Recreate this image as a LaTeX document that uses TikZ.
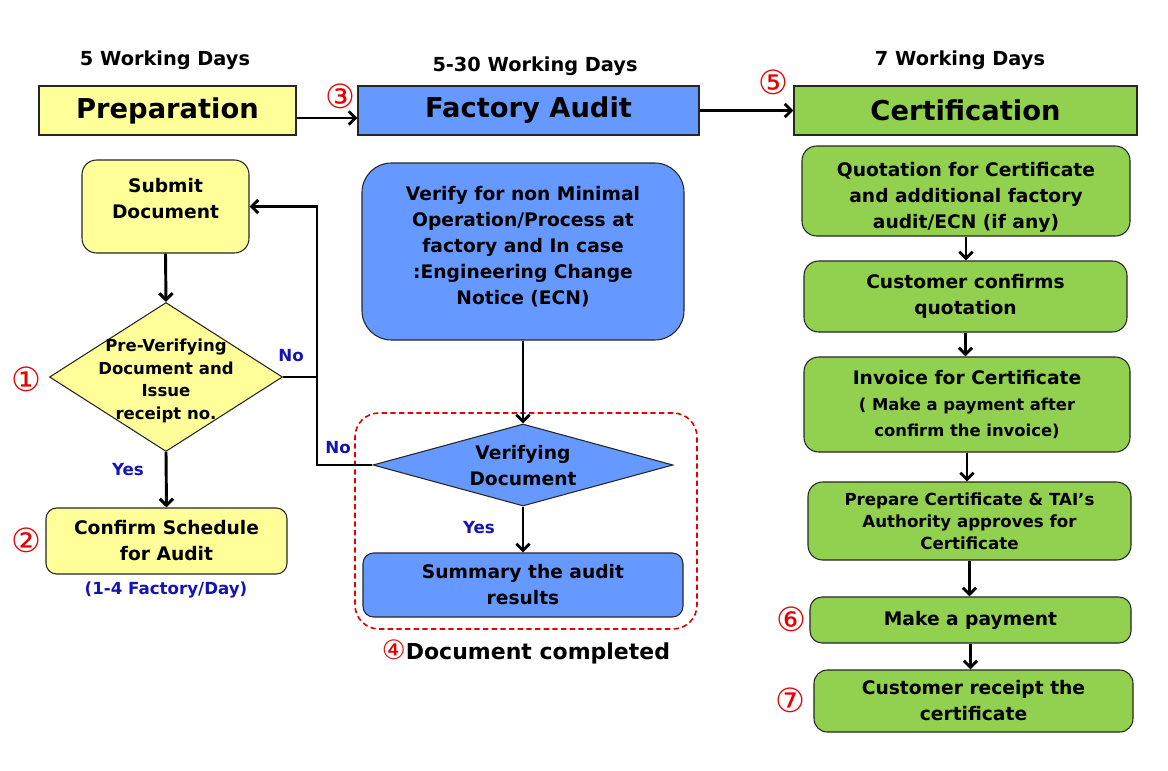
\documentclass[tikz,border=0pt]{standalone}
\usepackage{fontspec}
\setmainfont{DejaVu Sans}
\usetikzlibrary{shapes.geometric,arrows.meta,calc}
\definecolor{yel}{HTML}{FFFF99}
\definecolor{blu}{HTML}{6699FF}
\definecolor{grn}{HTML}{92D050}
\definecolor{lbl}{HTML}{1414B4}
\definecolor{rd}{HTML}{E60000}
\begin{document}
\begin{tikzpicture}[x=0.75pt,y=-0.75pt,
  box/.style={draw=black!85, line width=0.8pt, align=center, inner sep=2pt,
    font=\fontsize{14}{19.5}\selectfont\bfseries},
  titlebox/.style={box, font=\fontsize{20.5}{24}\selectfont\bfseries},
  days/.style={font=\fontsize{14.5}{17}\selectfont\bfseries},
  lab/.style={text=lbl, font=\fontsize{12.5}{15}\selectfont\bfseries},
  num/.style={text=rd, font=\fontsize{25}{26}\selectfont},
  conn/.style={line width=2.2pt},
  arr/.style={line width=2.2pt, -{Straight Barb[length=5pt,width=10pt]}}
]
\useasboundingbox[fill=white] (0,0) rectangle (1168,771);

% headings
\node[days] (dA) at (165,60) {5 Working Days};
\node[days] (dB) at (535,66) {5-30 Working Days};
\node[days] (dC) at (960,60) {7 Working Days};

% title boxes
\node[titlebox, fill=yel, minimum width=192.75pt, minimum height=36.75pt] (prep) at (167.5,110.5) {Preparation};
\node[titlebox, fill=blu, minimum width=255.75pt, minimum height=36.75pt] (fa) at (528.5,110.5) {Factory Audit};
\node[titlebox, fill=grn, minimum width=257.25pt, minimum height=36.75pt] (cert) at (965.5,110.5) {Certification};

% left column
\node[box, fill=yel, rounded corners=11pt, minimum width=125.25pt, minimum height=69.75pt] (sub) at (165.5,206.5) {Submit\\Document\\[-7.5pt]\mbox{}};
\node[diamond, draw=black!85, line width=0.8pt, fill=yel, inner sep=0pt, minimum width=174.75pt, minimum height=111.75pt] (d1) at (166,377) {};
\node[align=center, font=\fontsize{12.4}{17}\selectfont\bfseries] (d1t) at (166,381) {Pre-Verifying\\Document and\\Issue\\receipt no.};
\node[box, fill=yel, rounded corners=8pt, minimum width=180.75pt, minimum height=49.5pt] (conf) at (166.5,541) {Confirm Schedule\\for Audit};
\node[lab] (fd) at (166,590) {(1-4 Factory/Day)};

% middle column
\node[draw=rd, dashed, dash pattern=on 4pt off 2.5pt, line width=1.2pt, rounded corners=18pt, minimum width=256.5pt, minimum height=162pt] (grp) at (526,521) {};
\node[box, fill=blu, rounded corners=22pt, minimum width=241.5pt, minimum height=132.75pt] (ver) at (523,251.5) {Verify for non Minimal\\Operation/Process at\\factory and In case\\:Engineering Change\\Notice (ECN)\\[-10.5pt]\mbox{}};
\node[diamond, draw=black!85, line width=0.8pt, fill=blu, inner sep=0pt, minimum width=225pt, minimum height=61.5pt] (d2) at (523,465) {};
\node[align=center, font=\fontsize{14}{19.5}\selectfont\bfseries] (d2t) at (523,466) {Verifying\\Document};
\node[box, fill=blu, rounded corners=8pt, minimum width=240pt, minimum height=48pt] (sum) at (523,585) {Summary the audit\\results};
\node[font=\fontsize{16.5}{19}\selectfont\bfseries] (done) at (526,652) {\textcolor{rd}{\mdseries\fontsize{20}{20}\selectfont ④}Document completed};

% right column
\node[box, fill=grn, rounded corners=11pt, minimum width=246pt, minimum height=67.5pt] (quo) at (966,191) {};
\node[align=center, font=\fontsize{14}{19.5}\selectfont\bfseries] (quot) at (966,197) {Quotation for Certificate\\and additional factory\\audit/ECN (if any)};
\node[box, fill=grn, rounded corners=11pt, minimum width=242.25pt, minimum height=53.25pt] (cc) at (965.5,296.5) {Customer confirms\\quotation};
\node[box, fill=grn, rounded corners=11pt, minimum width=244.5pt, minimum height=71.25pt] (inv) at (967,404.5) {Invoice for Certificate\\{\fontsize{12.3}{16.5}\selectfont ( Make a payment after}\\{\fontsize{12.3}{16.5}\selectfont confirm the invoice)}};
\node[box, fill=grn, rounded corners=11pt, minimum width=242.25pt, minimum height=58.5pt, font=\fontsize{12.5}{16.5}\selectfont\bfseries] (prc) at (969.5,521) {Prepare Certificate \& TAI’s\\Authority approves for\\Certificate};
\node[box, fill=grn, rounded corners=9pt, minimum width=240.75pt, minimum height=34.5pt] (pay) at (970.5,620) {Make a payment};
\node[box, fill=grn, rounded corners=10pt, minimum width=239.25pt, minimum height=46.5pt] (rec) at (973.5,701) {Customer receipt the\\certificate};

% circled numbers
\node[num] (n1) at (26,379) {①};
\node[num] (n2) at (26,540) {②};
\node[num] (n3) at (340,96) {③};
\node[num] (n5) at (773,82) {⑤};
\node[num] (n6) at (791,619) {⑥};
\node[num] (n7) at (790,700) {⑦};

% labels
\node[lab] (no1) at (291,356) {No};
\node[lab] (no2) at (338,448) {No};
\node[lab] (yes1) at (128,470) {Yes};
\node[lab] (yes2) at (479,528) {Yes};

% connectors
\coordinate (jx) at (317,0);
\draw[arr] ($(prep.east)+(0,7.5)$) -- ($(fa.west)+(0,7.5)$);
\draw[arr] (fa.east) -- (cert.west);
\draw[arr] (sub.south) -- (d1.north);
\draw[arr] (d1.south) -- (conf.north);
\draw[conn] (d1.east) -- (d1.east -| jx);
\draw[arr] (d2.west) -- (d2.west -| jx) |- (sub.east);
\draw[arr] (ver.south) -- (d2.north);
\draw[arr] (d2.south) -- (sum.north);
\draw[arr] (quo.south) -- (quo.south |- cc.north);
\draw[arr] (cc.south) -- (cc.south |- inv.north);
\draw[arr] (inv.south) -- (inv.south |- prc.north);
\draw[arr] (prc.south) -- (prc.south |- pay.north);
\draw[arr] (pay.south) -- (pay.south |- rec.north);
\end{tikzpicture}
\end{document}
